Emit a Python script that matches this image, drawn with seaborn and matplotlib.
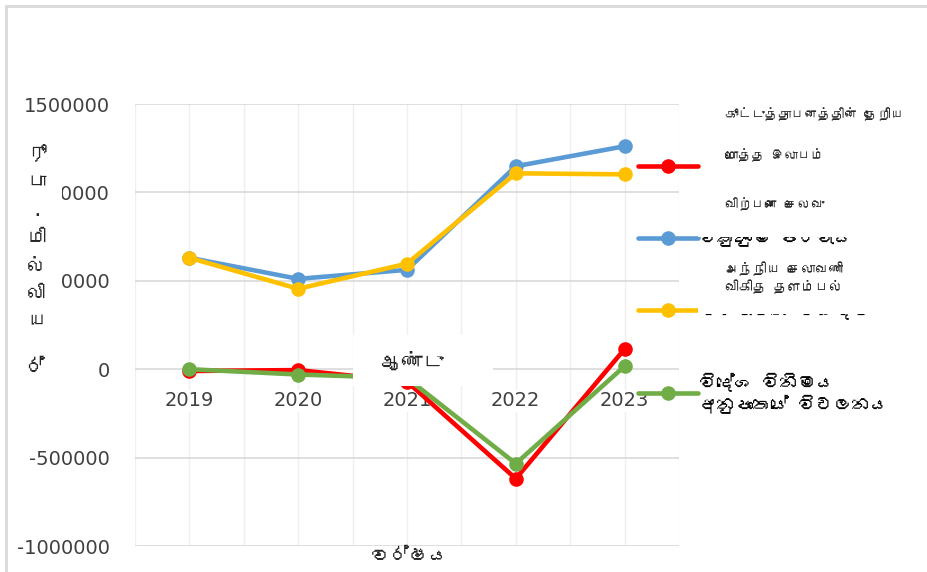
import matplotlib
matplotlib.use("Agg")
import matplotlib.pyplot as plt
import seaborn as sns
import pandas as pd
from matplotlib import font_manager
from matplotlib.ft2font import FT2Font
from matplotlib.patches import Rectangle

years = ["2019", "2020", "2021", "2022", "2023"]
net_profit = [-10000, -5000, -70000, -619000, 114000]
cost_of_sales = [630000, 511000, 562000, 1148000, 1261000]
revenue = [630000, 455000, 597000, 1108000, 1102000]
fx_variation = [0, -30000, -50000, -534000, 17000]

series_names = ["net_profit", "cost_of_sales", "revenue", "fx_variation"]
legend_labels = [" ", "විකුණුම් පිරිවැය", "පරිපාලන වියදම්",
                 "විදේශ විනිමය\nඅනුපාතයේ විචලනය"]
colors = ["#FF0000", "#5B9BD5", "#FFC000", "#70AD47"]

tamil_notes = ["கூட்டுத்தாபனத்தின் தேறிய", "மொத்த இலாபம்", "விற்பனை செலவு",
               "அந்நிய செலாவணி\nவிகித தளம்பல்"]
y_label_chars = ["ரூ", "பா", ".", "மி", "ல்", "லி", "ய"]
x_title = "ஆண்டு"
x_title_si = "වර්ෂය"


def find_family(ch, fallback="DejaVu Sans"):
    for path in sorted(font_manager.findSystemFonts()):
        try:
            if ord(ch) in FT2Font(path).get_charmap():
                return font_manager.FontProperties(fname=path).get_name()
        except Exception:
            continue
    return fallback


TAMIL = [find_family("த"), "DejaVu Sans"]
SINHALA = [find_family("ව"), "DejaVu Sans"]

sns.set_theme(style="white")
plt.rcParams["font.family"] = ["DejaVu Sans"]

df = pd.DataFrame({"year": years * 4,
                   "value": net_profit + cost_of_sales + revenue + fx_variation,
                   "series": sum([[n] * len(years) for n in series_names], [])})

fig = plt.figure(figsize=(9.27, 5.72), dpi=100)
ax = fig.add_axes([135 / 927, 1 - 546 / 572, 544 / 927, 442 / 572])

sns.lineplot(data=df, x="year", y="value", hue="series", hue_order=series_names,
             palette=colors, marker="o", markersize=10.5, markeredgewidth=0,
             linewidth=3.3, sort=False, ax=ax)

ax.set_ylim(-1000000, 1500000)
ax.set_xlim(-0.5, 4.5)
yt = list(range(-1000000, 1500001, 500000))
ax.set_yticks(yt)
ax.set_yticklabels([str(v) for v in yt])
ax.set_xticks(range(5), minor=False)
ax.set_xticks([i - 0.5 for i in range(6)], minor=True)
ax.grid(axis="y", color="#d9d9d9", linewidth=1.2)
ax.grid(axis="x", which="both", color="#efefef", linewidth=1)
ax.set_axisbelow(True)
for s in ax.spines.values():
    s.set_visible(False)
ax.spines["bottom"].set_position(("data", 0))
ax.tick_params(axis="both", which="both", length=0, labelsize=14, labelcolor="#404040")
ax.tick_params(axis="x", pad=16)
ax.tick_params(axis="y", pad=18)
for lab in ax.get_xticklabels():
    lab.set_bbox(dict(facecolor="white", edgecolor="none", pad=1))
ax.set_xlabel("")
ax.set_ylabel("")

handles, _ = ax.get_legend_handles_labels()
leg = ax.legend(handles, legend_labels, loc="upper left",
                bbox_to_anchor=(638 / 927, 1 - 160 / 572),
                bbox_transform=fig.transFigure, frameon=False, handlelength=3.3,
                labelspacing=2.96, handletextpad=0.1, borderpad=0, borderaxespad=0,
                prop={"family": SINHALA, "size": 13})
for t in leg.get_texts():
    t.set_color("#000000")

# white boxes that hide parts of the chart, as in the original
for x0, y0, x1, y1 in [(698, 190, 850, 237), (698, 255, 885, 314),
                       (353, 335, 493, 386), (10, 130, 62, 350)]:
    fig.patches.append(Rectangle((x0 / 927, 1 - y1 / 572), (x1 - x0) / 927, (y1 - y0) / 572,
                                 transform=fig.transFigure, facecolor="white",
                                 edgecolor="none", zorder=5))

fig.text(725 / 927, 1 - 114 / 572, tamil_notes[0], family=TAMIL, fontsize=9.5, va="center", zorder=6)
fig.text(725 / 927, 1 - 155 / 572, tamil_notes[1], family=TAMIL, fontsize=9.5, va="center", zorder=6)
fig.text(725 / 927, 1 - 204 / 572, tamil_notes[2], family=TAMIL, fontsize=9.5, va="center", zorder=6)
fig.text(725 / 927, 1 - 278 / 572, tamil_notes[3], family=TAMIL, fontsize=10, va="center",
         linespacing=1.3, zorder=6)

fig.text(37 / 927, 1 - 237 / 572, "\n".join(y_label_chars), family=TAMIL, fontsize=14,
         ha="center", va="center", linespacing=1.85, zorder=6)
fig.text(35 / 927, 1 - 368 / 572, "ර්", family=SINHALA, fontsize=15,
         ha="center", va="center", zorder=6)
fig.text(412 / 927, 1 - 362 / 572, x_title, family=TAMIL, fontsize=15, ha="center",
         va="center", zorder=6)
fig.text(410 / 927, 1 - 556 / 572, x_title_si, family=SINHALA, fontsize=14,
         ha="center", va="center", zorder=6)

fig.patches.append(Rectangle((6 / 927, -0.1), 1.2, 1 - 6 / 572 + 0.1, transform=fig.transFigure,
                             facecolor="none", edgecolor="#d9d9d9", linewidth=2, zorder=7))

fig.savefig("out.png", dpi=100)
